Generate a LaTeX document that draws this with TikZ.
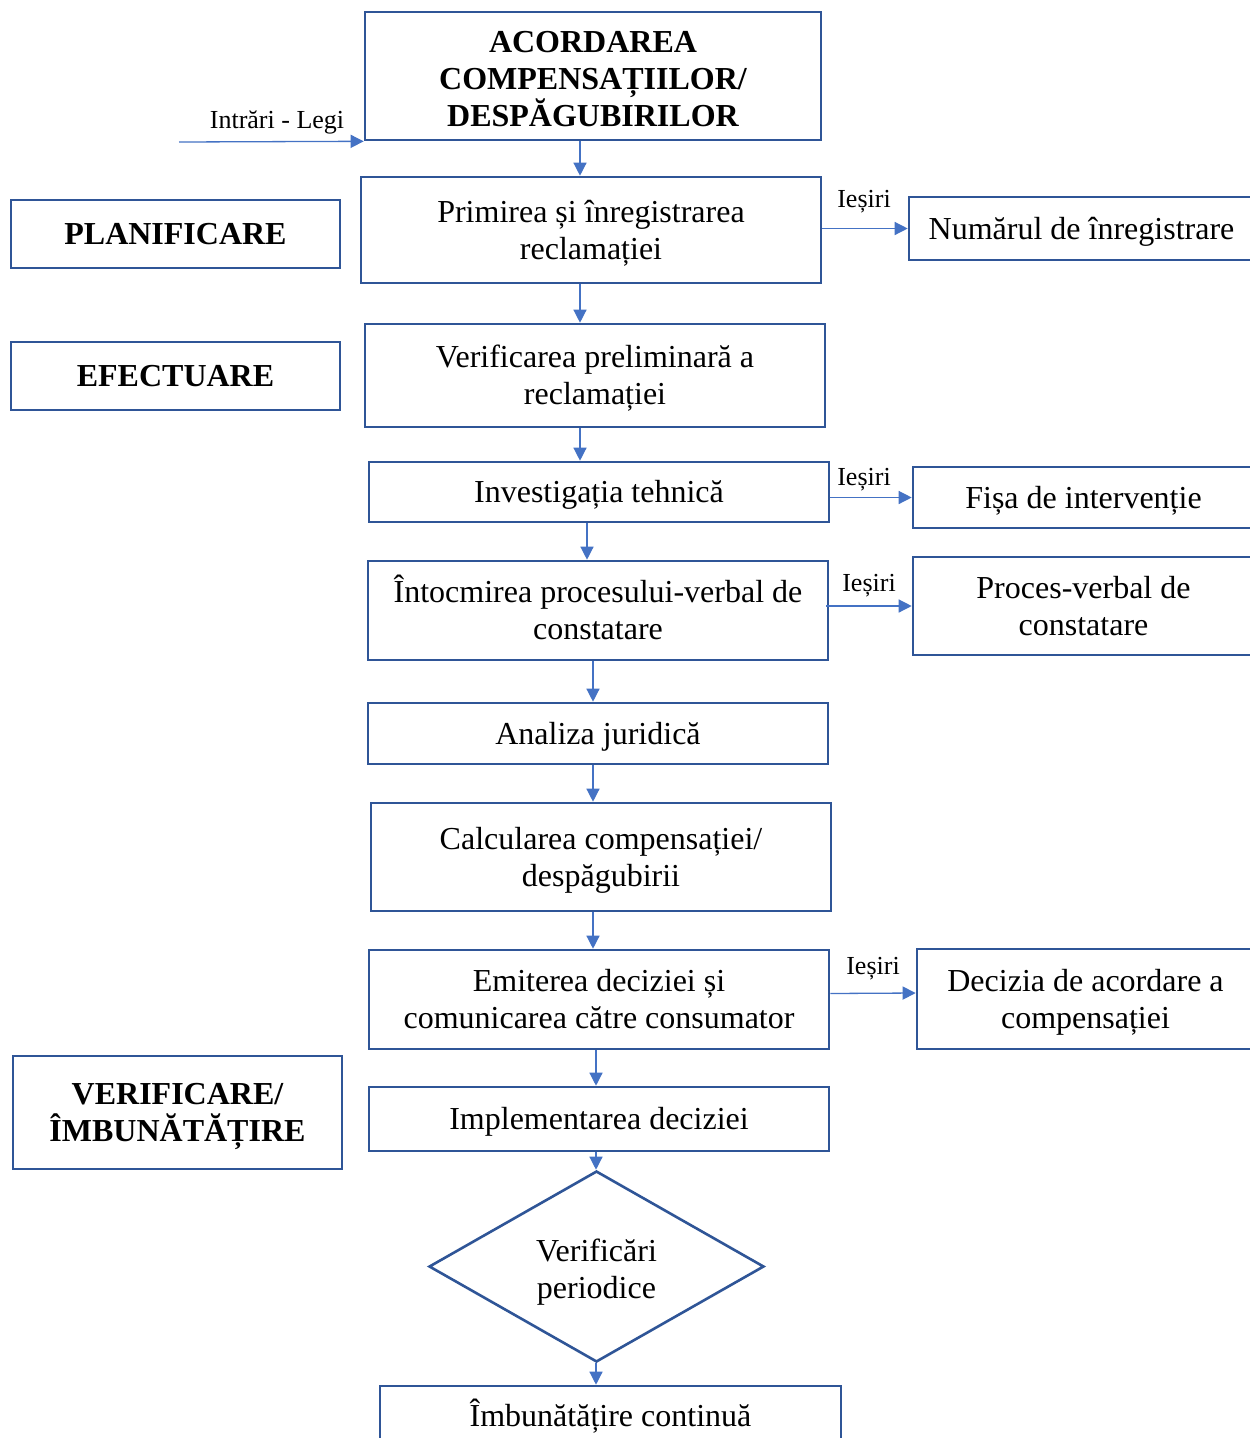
\documentclass[tikz,border=0pt]{standalone}
\usepackage{fontspec}
\setmainfont{Liberation Serif}
\usetikzlibrary{arrows.meta,shapes.geometric,calc}
\definecolor{boxblue}{HTML}{2F5597}
\definecolor{arrblue}{HTML}{4472C4}
\newcommand\sttop{\rule{0pt}{30pt}}
\newcommand\stbig{\rule{0pt}{35pt}}
\begin{document}
\begin{tikzpicture}[x=1pt,y=-1pt,
  box/.style={draw=boxblue,line width=2.6pt,inner sep=0pt,align=center,font=\fontsize{32}{37}\selectfont,
    execute at begin node={\rule{0pt}{30pt}},execute at end node={\rule[-9pt]{0pt}{9pt}}},
  bbox/.style={box,font=\bfseries\fontsize{32}{37}\selectfont},
  lbl/.style={font=\fontsize{26}{30}\selectfont,inner sep=0pt},
  arr/.style={draw=arrblue,line width=1.3pt,-{Triangle[width=13pt,length=13pt]}}]
\clip (0,0) rectangle (1250,1438);
\fill[white] (0,0) rectangle (1250,1438);
% main column
\node[bbox,minimum width=456pt,minimum height=128pt] (b1) at (593,76) {\stbig ACORDAREA\\COMPENSAȚIILOR/\\DESPĂGUBIRILOR};
\node[box,minimum width=460pt,minimum height=106pt] (b2) at (591,230) {\sttop Primirea și înregistrarea\\reclamației};
\node[box,minimum width=460pt,minimum height=103pt] (b3) at (595,375.5) {\sttop Verificarea preliminară a\\reclamației};
\node[box,minimum width=460pt,minimum height=60pt] (b4) at (599,492) {Investigația tehnică};
\node[box,minimum width=460pt,minimum height=99pt] (b5) at (598,610.5) {\sttop Întocmirea procesului-verbal de\\constatare};
\node[box,minimum width=460pt,minimum height=61pt] (b6) at (598,733.5) {Analiza juridică};
\node[box,minimum width=460pt,minimum height=108pt] (b7) at (601,857) {\sttop Calcularea compensației/\\despăgubirii};
\node[box,minimum width=460pt,minimum height=99pt] (b8) at (599,999.5) {\sttop Emiterea deciziei și\\comunicarea către consumator};
\node[box,minimum width=460pt,minimum height=64pt] (b9) at (599,1119) {Implementarea deciziei};
\node[draw=boxblue,line width=2.6pt,diamond,inner sep=0pt,minimum width=335pt,minimum height=191pt] (d) at (596.5,1266.5) {};
\node[align=center,font=\fontsize{32}{37}\selectfont,inner sep=0pt] (dt) at (596.5,1272) {Verificări\\periodice};
\node[box,minimum width=461pt,minimum height=60pt] (b11) at (610.5,1416) {Îmbunătățire continuă};
% left column
\node[bbox,minimum width=329pt,minimum height=68pt] (l1) at (175.5,234) {PLANIFICARE};
\node[bbox,minimum width=329pt,minimum height=68pt] (l2) at (175.5,376) {EFECTUARE};
\node[bbox,minimum width=329pt,minimum height=113pt] (l3) at (177.5,1112.5) {\sttop VERIFICARE/\\ÎMBUNĂTĂȚIRE};
% right column
\node[box,minimum width=345pt,minimum height=63pt] (r1) at (1081.5,228.5) {Numărul de înregistrare};
\node[box,minimum width=341pt,minimum height=61pt] (r2) at (1083.5,497.5) {Fișa de intervenție};
\node[box,minimum width=341pt,minimum height=98pt] (r3) at (1083.5,606) {\sttop Proces-verbal de\\constatare};
\node[box,minimum width=337pt,minimum height=100pt] (r4) at (1085.5,999) {\sttop Decizia de acordare a\\compensației};
% input
\coordinate (in) at (179,142);
\draw[arr] (in) -- (b1.south west);
\node[lbl] (inl) at (277,122) {Intrări - Legi};
% vertical connectors
\draw[arr] ([xshift=-13pt]b1.south) -- ([xshift=-11pt]b2.north);
\draw[arr] ([xshift=-11pt]b2.south) -- ([xshift=-15pt]b3.north);
\draw[arr] ([xshift=-15pt]b3.south) -- ([xshift=-19pt]b4.north);
\draw[arr] ([xshift=-12pt]b4.south) -- ([xshift=-11pt]b5.north);
\draw[arr] ([xshift=-5pt]b5.south) -- ([xshift=-5pt]b6.north);
\draw[arr] ([xshift=-5pt]b6.south) -- ([xshift=-8pt]b7.north);
\draw[arr] ([xshift=-8pt]b7.south) -- ([xshift=-6pt]b8.north);
\draw[arr] ([xshift=-3pt]b8.south) -- ([xshift=-3pt]b9.north);
\draw[arr] ([xshift=-3pt]b9.south) -- ([xshift=-0.5pt]d.north);
\draw[arr] ([xshift=-0.5pt]d.south) -- ([xshift=-14.5pt]b11.north);
% outputs
\draw[arr] (b2.east |- r1.west) -- (r1.west);
\node[lbl] (o1) at (864,202) {Ieșiri};
\draw[arr] (b4.east |- r2.west) -- (r2.west);
\node[lbl] (o2) at (864,480) {Ieșiri};
\draw[arr] ([xshift=-3pt]b5.east |- r3.west) -- (r3.west);
\node[lbl] (o3) at (869,586) {Ieșiri};
\draw[arr] ([yshift=6pt]b8.east) -- ([yshift=6pt]r4.west);
\node[lbl] (o4) at (873,969) {Ieșiri};
\end{tikzpicture}
\end{document}
